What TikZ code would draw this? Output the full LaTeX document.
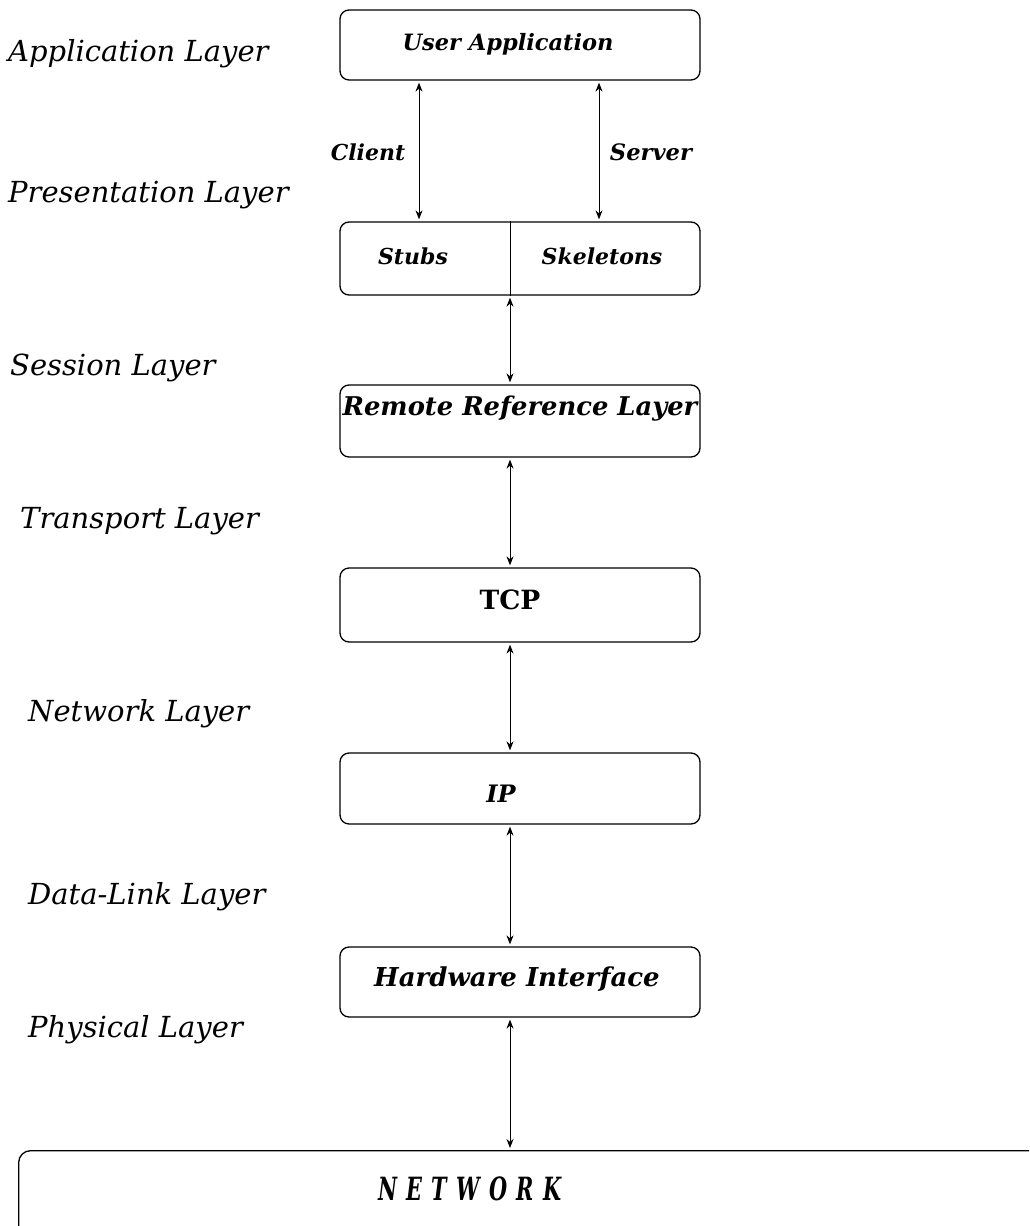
\documentclass[tikz,border=0pt]{standalone}
\usepackage{fontspec}
\setmainfont{DejaVu Serif}
\usetikzlibrary{arrows.meta}

\newcommand{\netgap}{\hspace{0.45em}}

\tikzset{
  layername/.style={anchor=base west, inner sep=0pt,
    font=\fontsize{29}{31}\selectfont\itshape},
  boxtext/.style={anchor=base, inner sep=0pt,
    font=\fontsize{22}{24}\selectfont\bfseries\itshape},
  layerbox/.style={draw, line width=1.3pt, rounded corners=9pt,
    minimum width=360pt, inner sep=0pt},
  link/.style={{Stealth[length=9pt,width=7pt]}-{Stealth[length=9pt,width=7pt]},
    line width=0.9pt, shorten <=2pt, shorten >=2pt},
}

\begin{document}
\begin{tikzpicture}[x=1pt,y=-1pt]
\useasboundingbox (0,0) rectangle (1029,1226);
\clip (0,0) rectangle (1029,1226);

% OSI layer names on the left
\node[layername] (lapp)  at (8,61)    {Application Layer};
\node[layername] (lpres) at (8,202)   {Presentation Layer};
\node[layername] (lsess) at (10,375)  {Session Layer};
\node[layername] (ltran) at (20,528)  {Transport Layer};
\node[layername] (lnet)  at (28,721)  {Network Layer};
\node[layername] (ldl)   at (28,904)  {Data-Link Layer};
\node[layername] (lphy)  at (28,1037) {Physical Layer};

% RMI stack boxes
\node[layerbox, minimum height=70pt] (ua)   at (520,45)    {};
\node[layerbox, minimum height=73pt] (pres) at (520,258.5) {};
\node[layerbox, minimum height=72pt] (rrl)  at (520,421)   {};
\node[layerbox, minimum height=74pt] (tcp)  at (520,605)   {};
\node[layerbox, minimum height=71pt] (ip)   at (520,788.5) {};
\node[layerbox, minimum height=70pt] (hw)   at (520,982)   {};
\node[layerbox, minimum width=1100pt, minimum height=160pt, rounded corners=12pt,
      anchor=north west] (net) at (18,1150) {};

% divider between stubs and skeletons
\coordinate (split) at (510,0);
\draw[line width=1pt] (pres.north -| split) -- (pres.south -| split);

% box captions
\node[boxtext, font=\fontsize{22.5}{24}\selectfont\bfseries\itshape]
      (tua) at (508,50) {User Application};
\node[boxtext] (tstub) at (413,264) {Stubs};
\node[boxtext] (tskel) at (602,264) {Skeletons};
\node[boxtext, font=\fontsize{25.8}{28}\selectfont\bfseries\itshape]
      (trrl) at (520,415) {Remote Reference Layer};
\node[boxtext, font=\fontsize{26.5}{28}\selectfont\bfseries] (ttcp) at (510,609) {TCP};
\node[boxtext, font=\fontsize{24}{26}\selectfont\bfseries\itshape]
      (tip) at (501,802) {IP};
\node[boxtext, font=\fontsize{26}{28}\selectfont\bfseries\itshape]
      (thw) at (517,986) {Hardware Interface};
\node[boxtext, font=\fontsize{32}{34}\selectfont\bfseries\itshape]
      (tnet) at (470,1200)
      {\scalebox{0.65}[1]{N\netgap E\netgap T\netgap W\netgap O\netgap R\netgap K}};

% client / server connectors
\coordinate (cx) at (419,0);
\coordinate (sx) at (599,0);
\draw[link] (ua.south -| cx) -- (pres.north -| cx);
\draw[link] (ua.south -| sx) -- (pres.north -| sx);
\node[boxtext] (tcl) at (368,160) {Client};
\node[boxtext, font=\fontsize{22.6}{24}\selectfont\bfseries\itshape]
      (tsv) at (651,160) {Server};

% links down the stack
\draw[link] (pres.south -| split) -- (rrl.north -| split);
\draw[link] (rrl.south -| split)  -- (tcp.north -| split);
\draw[link] (tcp.south -| split)  -- (ip.north -| split);
\draw[link] (ip.south -| split)   -- (hw.north -| split);
\draw[link] (hw.south -| split)   -- (net.north -| split);
\end{tikzpicture}
\end{document}
